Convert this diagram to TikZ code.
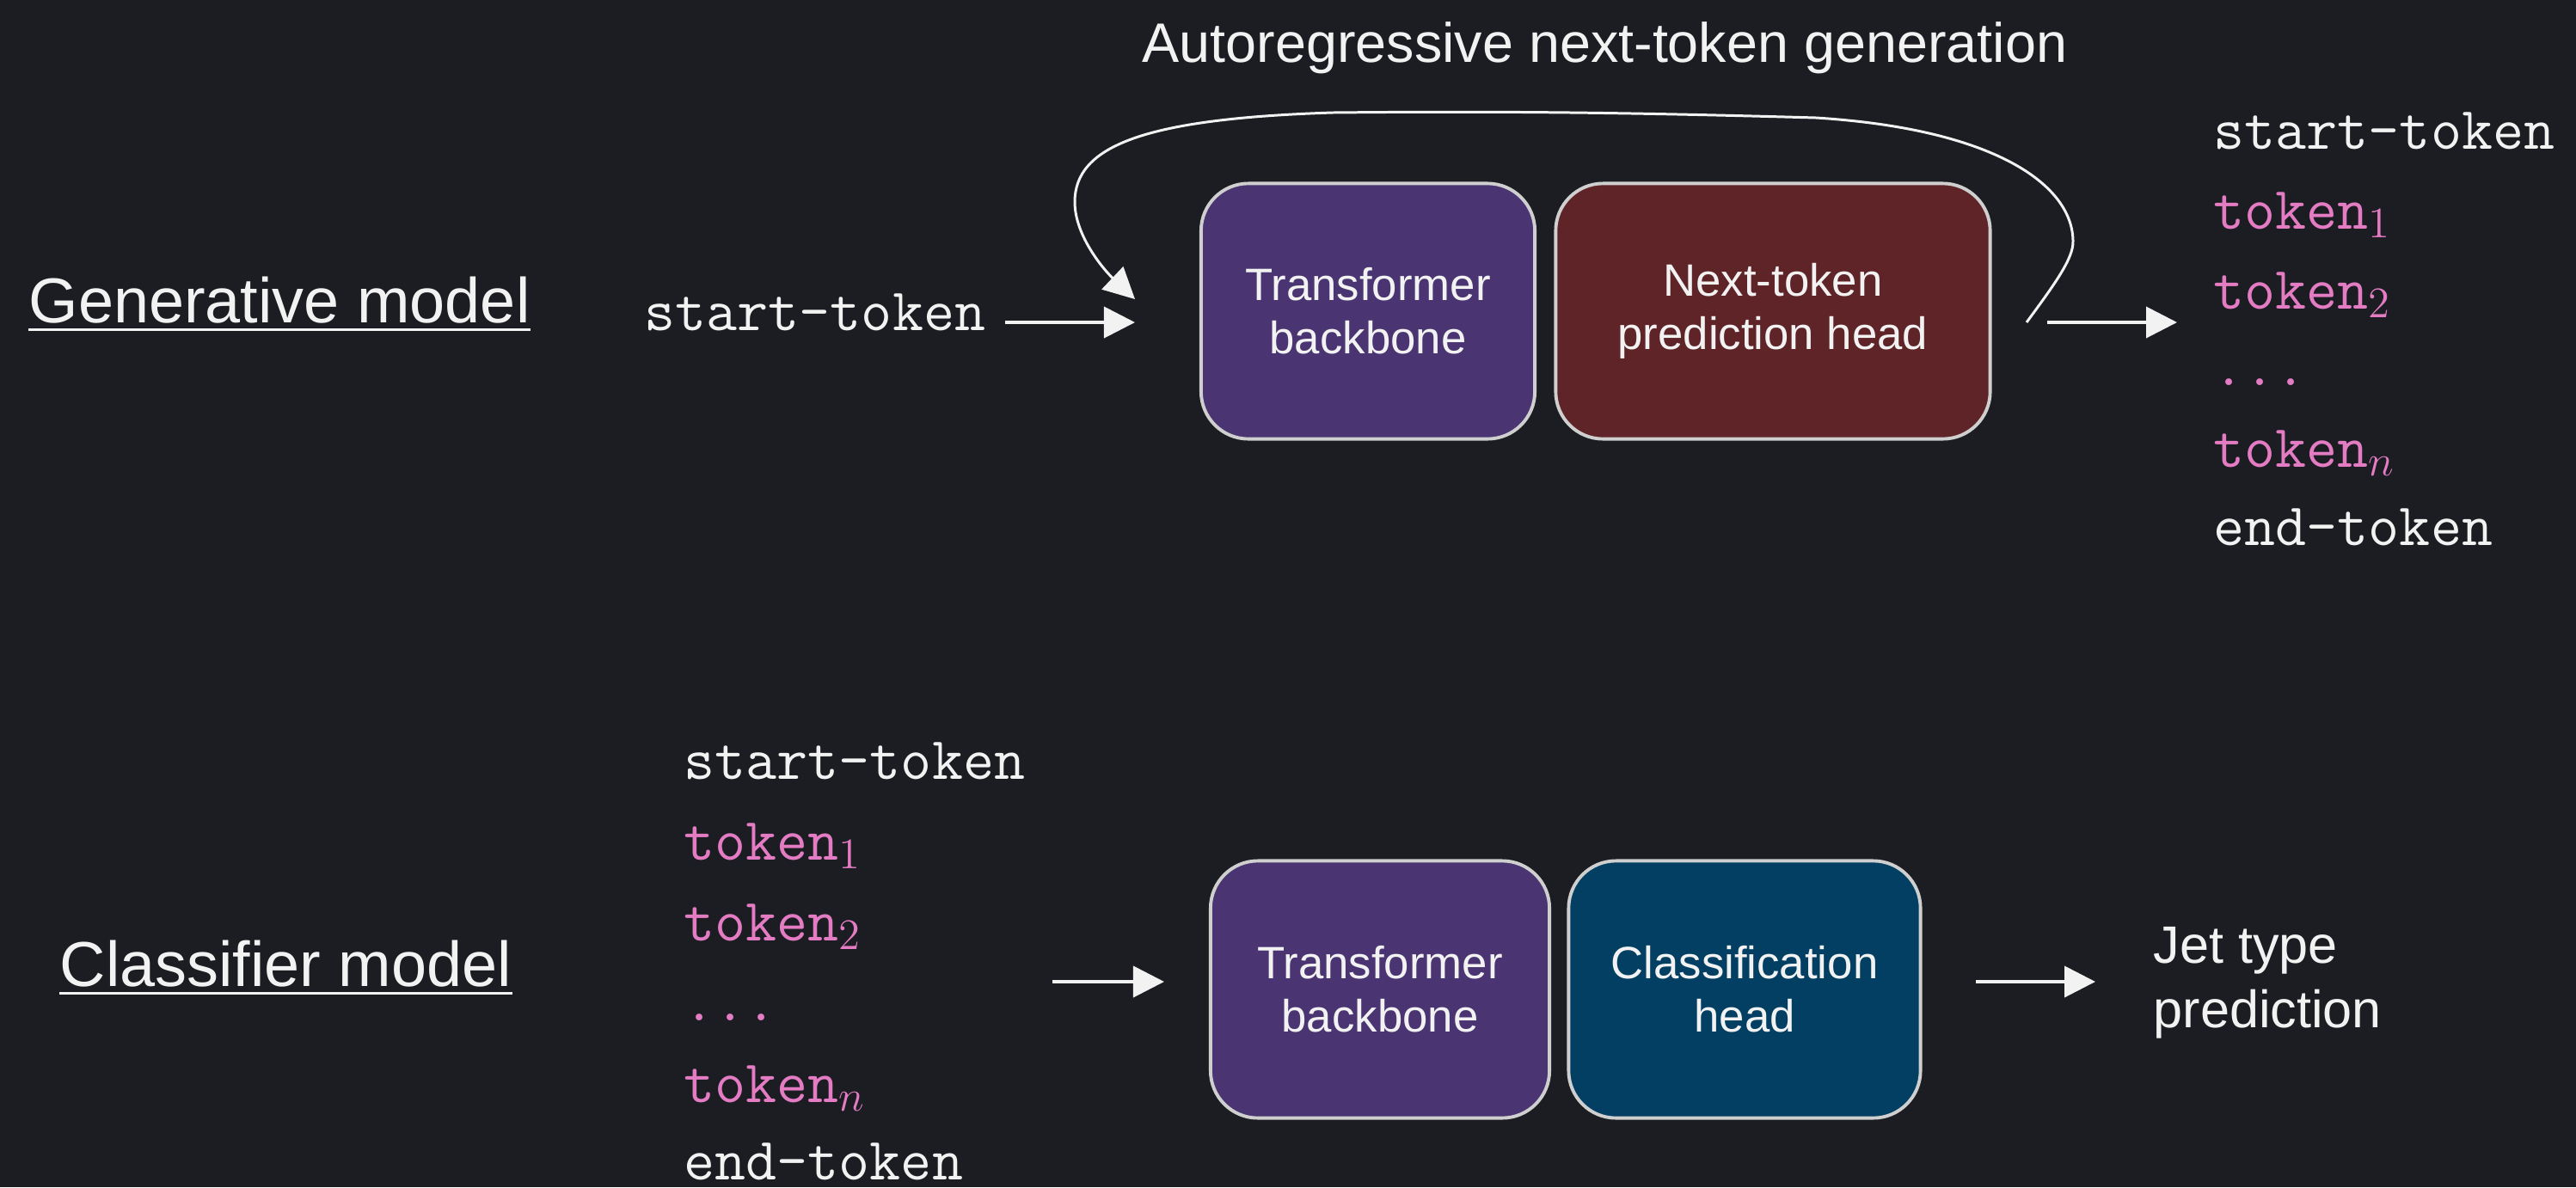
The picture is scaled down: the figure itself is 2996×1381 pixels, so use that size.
\documentclass[tikz,border=0pt]{standalone}
\usepackage{fontspec}
\setmainfont{Liberation Sans}
\usetikzlibrary{arrows.meta}

\definecolor{bg}{HTML}{1B1D22}
\definecolor{ink}{HTML}{F2F2F2}
\definecolor{tok}{HTML}{E47CC3}
\definecolor{edge}{HTML}{CFCFCF}
\definecolor{purplebox}{HTML}{4A3572}
\definecolor{redbox}{HTML}{5E2427}
\definecolor{bluebox}{HTML}{023F63}

\begin{document}
\begin{tikzpicture}[x=0.01cm, y=-0.01cm,
  block/.style={draw=edge, line width=1.1pt, rounded corners=0.55cm,
    text=ink, align=center, font=\fontsize{15}{17.6}\selectfont,
    minimum height=2.97cm, inner sep=0pt},
  heading/.style={text=ink, font=\fontsize{21}{25}\selectfont, inner sep=0pt, anchor=base west},
  plain/.style={text=ink, font=\fontsize{17.4}{21.3}\selectfont, inner sep=0pt, align=left},
  tt/.style={text=ink, font=\fontsize{19.9}{23}\selectfont\ttfamily, inner sep=0pt, anchor=base west},
  pk/.style={tt, text=tok},
  arr/.style={draw=ink, line width=1.1pt, -{Triangle[length=0.36cm,width=0.36cm]}},
  feedback/.style={draw=ink, line width=0.85pt, -{Triangle[length=0.36cm,width=0.36cm]}},
  uline/.style={draw=ink, line width=0.9pt}]

\fill[bg] (0,0) rectangle (2996,1381);
\useasboundingbox (0,0) rectangle (2996,1381);

% ---------------- generative model ----------------
\node[heading] (gen) at (33,375) {Generative model};
\draw[uline] ([yshift=-2.3pt]gen.base west) -- ([yshift=-2.3pt]gen.base east);

\node[text=ink, font=\fontsize{18.4}{22}\selectfont, inner sep=0pt, anchor=base west]
  (auto) at (1328,72) {Autoregressive next-token generation};

\node[tt] (st1) at (749,384) {start-token};

\node[block, fill=purplebox, minimum width=3.88cm] (tb1) at (1591,362) {Transformer\\backbone};
\node[block, fill=redbox, minimum width=5.05cm] (nh) at (2062,362) {Next-token\\prediction head};

\coordinate (in1a) at (1169,375);
\coordinate (in1b) at (1320,375);
\draw[arr] (in1a) -- (in1b);

\coordinate (out1a) at (2381,375);
\coordinate (out1b) at (2532,375);
\draw[arr] (out1a) -- (out1b);

% feedback loop from the head back to the backbone input
\coordinate (loopA) at (2357,375);
\coordinate (loopB) at (1320,348);
\draw[feedback] (loopA) .. controls (2390,330) and (2412,300) .. (2411,280)
  .. controls (2410,215) and (2320,150) .. (2112,137)
  .. controls (1900,131) and (1750,129) .. (1550,131)
  .. controls (1330,138) and (1250,170) .. (1250,235)
  .. controls (1250,275) and (1285,315) .. (loopB);

% generated sequence
\node[tt] (g0) at (2574,173) {start-token};
\node[pk] (g1) at (2574,266) {token$_1$};
\node[pk] (g2) at (2574,359) {token$_2$};
\node[pk] (g3) at (2574,448) {...};
\node[pk] (g4) at (2574,543) {token$_n$};
\node[tt] (g5) at (2574,634) {end-token};

% ---------------- classifier model ----------------
\node[heading] (cls) at (69,1147) {Classifier model};
\draw[uline] ([yshift=-2.3pt]cls.base west) -- ([yshift=-2.3pt]cls.base east);

\node[tt] (c0) at (795,906) {start-token};
\node[pk] (c1) at (795,1000) {token$_1$};
\node[pk] (c2) at (795,1094) {token$_2$};
\node[pk] (c3) at (795,1187) {...};
\node[pk] (c4) at (795,1282) {token$_n$};
\node[tt] (c5) at (795,1372) {end-token};

\node[block, fill=purplebox, minimum width=3.94cm, minimum height=2.99cm] (tb2) at (1605,1151) {Transformer\\backbone};
\node[block, fill=bluebox, minimum width=4.09cm, minimum height=2.99cm] (ch) at (2029,1151) {Classification\\head};

\coordinate (in2a) at (1224,1142);
\coordinate (in2b) at (1354,1142);
\draw[arr] (in2a) -- (in2b);

\coordinate (out2a) at (2298,1142);
\coordinate (out2b) at (2437,1142);
\draw[arr] (out2a) -- (out2b);

% the base anchor of a two-line node sits on its last line
\node[plain, anchor=base west] (jet) at (2504,1195) {Jet type\\prediction};

\end{tikzpicture}
\end{document}
